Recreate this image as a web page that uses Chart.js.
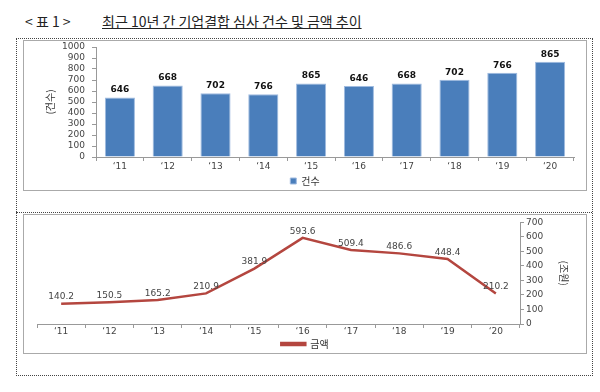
<!DOCTYPE html>
<html>
<head>
<meta charset="utf-8">
<script src="https://cdn.jsdelivr.net/npm/chart.js@4"></script>
<style>
  body { margin: 0; background: #fff; width: 600px; height: 392px; position: relative; overflow: hidden; }
  #tag { position: absolute; left: 25px; top: 11px; font: 14px "Noto Sans CJK KR"; color: #222; }
  #title { position: absolute; left: 102px; top: 11px; font: 14px "Noto Sans CJK KR"; color: #222; text-decoration: underline; }
  #frame { position: absolute; left: 16px; top: 38px; width: 575px; height: 336px; border: 1px dotted #444; }
  #divider { position: absolute; left: 16px; top: 212px; width: 576px; border-top: 1px dotted #444; }
  .box { position: absolute; border: 1px solid #aaa; background: #fff; }
  #box1 { left: 23px; top: 40px; width: 562px; height: 149px; }
  #box2 { left: 23px; top: 214px; width: 562px; height: 138px; }
</style>
</head>
<body>
<div id="tag">&lt; 표 1 &gt;</div>
<div id="title">최근 10년 간 기업결합 심사 건수 및 금액 추이</div>
<div id="frame"></div>
<div id="divider"></div>
<div class="box" id="box1"><canvas id="countChart" width="562" height="149"></canvas></div>
<div class="box" id="box2"><canvas id="amountChart" width="562" height="138"></canvas></div>
<script>
// categories
const years = ['‘11', '‘12', '‘13', '‘14', '‘15', '‘16', '‘17', '‘18', '‘19', '‘20'];
// bar heights as drawn (건수)
const countValues = [540, 650, 580, 570, 668, 646, 668, 702, 766, 865];
// labels printed over the bars
const countLabels = ['646', '668', '702', '766', '865', '646', '668', '702', '766', '865'];
// line values (금액, 조원)
const amountValues = [140.2, 150.5, 165.2, 210.9, 381.9, 593.6, 509.4, 486.6, 448.4, 210.2];
const amountLabels = ['140.2', '150.5', '165.2', '210.9', '381.9', '593.6', '509.4', '486.6', '448.4', '210.2'];

const tickFont = { family: 'DejaVu Sans', size: 9 };
const tickColor = '#444';
const plain = (v) => String(v);

// draws text above each mark
function labelPlugin(texts, font, color, gap) {
  return {
    id: 'valueLabels',
    afterDatasetsDraw(chart) {
      const ctx = chart.ctx;
      const meta = chart.getDatasetMeta(0);
      ctx.save();
      ctx.font = font;
      ctx.fillStyle = color;
      ctx.textAlign = 'center';
      ctx.textBaseline = 'bottom';
      meta.data.forEach((el, i) => {
        ctx.fillText(texts[i], el.x, el.y - gap);
      });
      ctx.restore();
    }
  };
}

// ----------------------- BAR CHART ----------------------- //
new Chart(document.getElementById('countChart'), {
  type: 'bar',
  data: {
    labels: years,
    datasets: [{
      label: '건수',
      data: countValues,
      backgroundColor: '#4a7ebb',
      borderColor: '#9fbbe0',
      borderWidth: 1,
      barPercentage: 0.63,
      categoryPercentage: 1
    }]
  },
  options: {
    responsive: false,
    animation: false,
    // negative bottom: the legend keeps 10px of empty margin under it
    layout: { padding: { left: 12, top: 6, right: 12, bottom: -6 } },
    plugins: {
      legend: {
        position: 'bottom',
        labels: { boxWidth: 6, boxHeight: 6, padding: 2, color: '#333', font: { family: 'Noto Sans CJK KR', size: 10 } }
      },
      tooltip: { enabled: false }
    },
    scales: {
      x: {
        afterFit: (s) => { s.height = 17; },
        grid: { drawOnChartArea: false, tickLength: 4, color: '#999' },
        border: { color: '#999' },
        ticks: { color: tickColor, font: tickFont, padding: 0 }
      },
      y: {
        min: 0, max: 1000,
        afterFit: (s) => { s.width = 60; s.paddingTop = 5; },
        grid: { drawOnChartArea: false, tickLength: 4, color: '#999' },
        border: { color: '#999' },
        ticks: { stepSize: 100, autoSkip: false, callback: plain, color: tickColor, font: tickFont, padding: 7 },
        title: { display: true, text: '(건수)', color: '#333', font: { family: 'Noto Sans CJK KR', size: 10 }, padding: { top: 8 } }
      }
    }
  },
  plugins: [labelPlugin(countLabels, 'bold 9px "DejaVu Sans"', '#111', 3)]
});

// ----------------------- LINE CHART ----------------------- //
new Chart(document.getElementById('amountChart'), {
  type: 'line',
  data: {
    labels: years,
    datasets: [{
      label: '금액',
      data: amountValues,
      borderColor: '#b4463f',
      backgroundColor: '#b4463f',
      borderWidth: 2.5,
      pointRadius: 0,
      tension: 0
    }]
  },
  options: {
    responsive: false,
    animation: false,
    layout: { padding: { left: 13, right: 13, top: 6, bottom: -6 } },
    plugins: {
      legend: {
        position: 'bottom',
        labels: { boxWidth: 24, boxHeight: 2, padding: 2, color: '#333', font: { family: 'Noto Sans CJK KR', size: 10 } }
      },
      tooltip: { enabled: false }
    },
    scales: {
      x: {
        offset: true,
        afterFit: (s) => { s.height = 13; },
        grid: { offset: true, drawOnChartArea: false, tickLength: 4, color: '#999' },
        border: { color: '#999' },
        ticks: { color: tickColor, font: tickFont, padding: -2 }
      },
      y: {
        position: 'right',
        min: 0, max: 700,
        afterFit: (s) => { s.width = 53; },
        grid: { drawOnChartArea: false, tickLength: 4, color: '#999' },
        border: { color: '#999' },
        ticks: { stepSize: 100, autoSkip: false, callback: plain, color: tickColor, font: tickFont, padding: 2 },
        title: { display: true, text: '(조원)', color: '#333', font: { family: 'Noto Sans CJK KR', size: 10 }, padding: { top: 3 } }
      }
    }
  },
  plugins: [labelPlugin(amountLabels, '9px "DejaVu Sans"', '#444', 2)]
});
</script>
</body>
</html>
